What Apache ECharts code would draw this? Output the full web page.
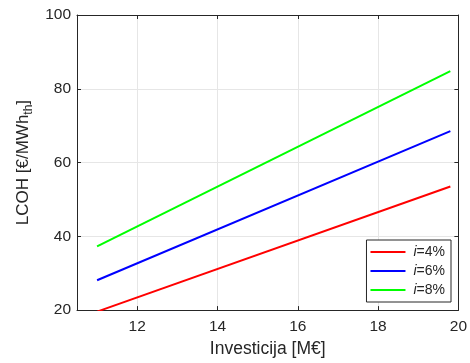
<!DOCTYPE html>
<html>
<head>
<meta charset="utf-8">
<script src="https://cdn.jsdelivr.net/npm/echarts@6/dist/echarts.min.js"></script>
<style>
  html, body { margin: 0; padding: 0; background: #fff; }
  #chart { width: 470px; height: 363px; }
</style>
</head>
<body>
<div id="chart"></div>
<script>
// values
const investicija = [11, 19.8];
const lcoh4 = [19.6, 53.5];
const lcoh6 = [28.1, 68.5];
const lcoh8 = [37.3, 84.8];
const seriesNames = ['i=4%', 'i=6%', 'i=8%'];
const seriesColors = ['#ff0000', '#0000ff', '#00ff00'];
const xTicks = [12, 14, 16, 18, 20];

const pairs = (xs, ys) => xs.map((x, i) => [x, ys[i]]);

const chart = echarts.init(document.getElementById('chart'));
const font = 'Arial, "Liberation Sans", sans-serif';
const ink = '#262626';

const baseAxis = {
  axisLine: { show: true, onZero: false, lineStyle: { color: ink, width: 1 } },
  axisTick: { show: true, inside: true, length: 4, lineStyle: { color: ink } },
  splitLine: { show: false },
};

chart.setOption({
  animation: false,
  textStyle: { fontFamily: font },
  grid: { left: 77, right: 11, top: 15, bottom: 52 },
  legend: {
    orient: 'vertical',
    right: 19,
    bottom: 61,
    backgroundColor: '#fff',
    borderColor: ink,
    borderWidth: 1,
    borderRadius: 0,
    padding: [5, 6, 5, 4],
    itemGap: 5,
    itemWidth: 35,
    itemHeight: 2,
    icon: 'rect',
    data: seriesNames,
    formatter: (name) => '{it|i}{tx|' + name.slice(1) + '}',
    textStyle: {
      color: ink,
      fontSize: 14,
      fontFamily: font,
      rich: {
        it: { fontStyle: 'italic', fontSize: 14, color: ink, fontFamily: font, padding: [0, 0, 0, 3] },
        tx: { fontSize: 14, color: ink, fontFamily: font },
      },
    },
  },
  xAxis: [
    {
      ...baseAxis,
      type: 'value',
      min: 10.5,
      max: 20,
      name: 'Investicija [M€]',
      nameLocation: 'middle',
      nameGap: 27,
      nameTextStyle: { color: ink, fontSize: 17.5, fontFamily: font },
      axisLabel: { color: ink, fontSize: 15.5, margin: 9, customValues: xTicks },
      axisTick: { ...baseAxis.axisTick, customValues: xTicks },
      splitLine: { show: true, lineStyle: { color: '#e6e6e6', width: 1 } },
    },
    {
      ...baseAxis,
      type: 'value',
      position: 'top',
      min: 10.5,
      max: 20,
      axisLabel: { show: false },
      axisTick: { ...baseAxis.axisTick, customValues: xTicks },
    },
  ],
  yAxis: [
    {
      ...baseAxis,
      type: 'value',
      min: 20,
      max: 100,
      interval: 20,
      name: 'LCOH [€/MWh{sub|th}]',
      nameLocation: 'middle',
      nameGap: 41,
      nameTextStyle: {
        color: ink, fontSize: 17, fontFamily: font,
        rich: { sub: { fontSize: 12, color: ink, fontFamily: font, verticalAlign: 'bottom', padding: [9, 0, 0, 0] } },
      },
      axisLabel: { color: ink, fontSize: 15.5, margin: 6 },
      splitLine: { show: true, lineStyle: { color: '#e6e6e6', width: 1 } },
    },
    {
      ...baseAxis,
      type: 'value',
      position: 'right',
      min: 20,
      max: 100,
      interval: 20,
      axisLabel: { show: false },
    },
  ],
  series: [lcoh4, lcoh6, lcoh8].map((ys, k) => ({
    name: seriesNames[k],
    type: 'line',
    data: pairs(investicija, ys),
    showSymbol: false,
    symbol: 'none',
    lineStyle: { color: seriesColors[k], width: 2 },
    itemStyle: { color: seriesColors[k] },
    z: 3,
  })),
});
</script>
</body>
</html>
